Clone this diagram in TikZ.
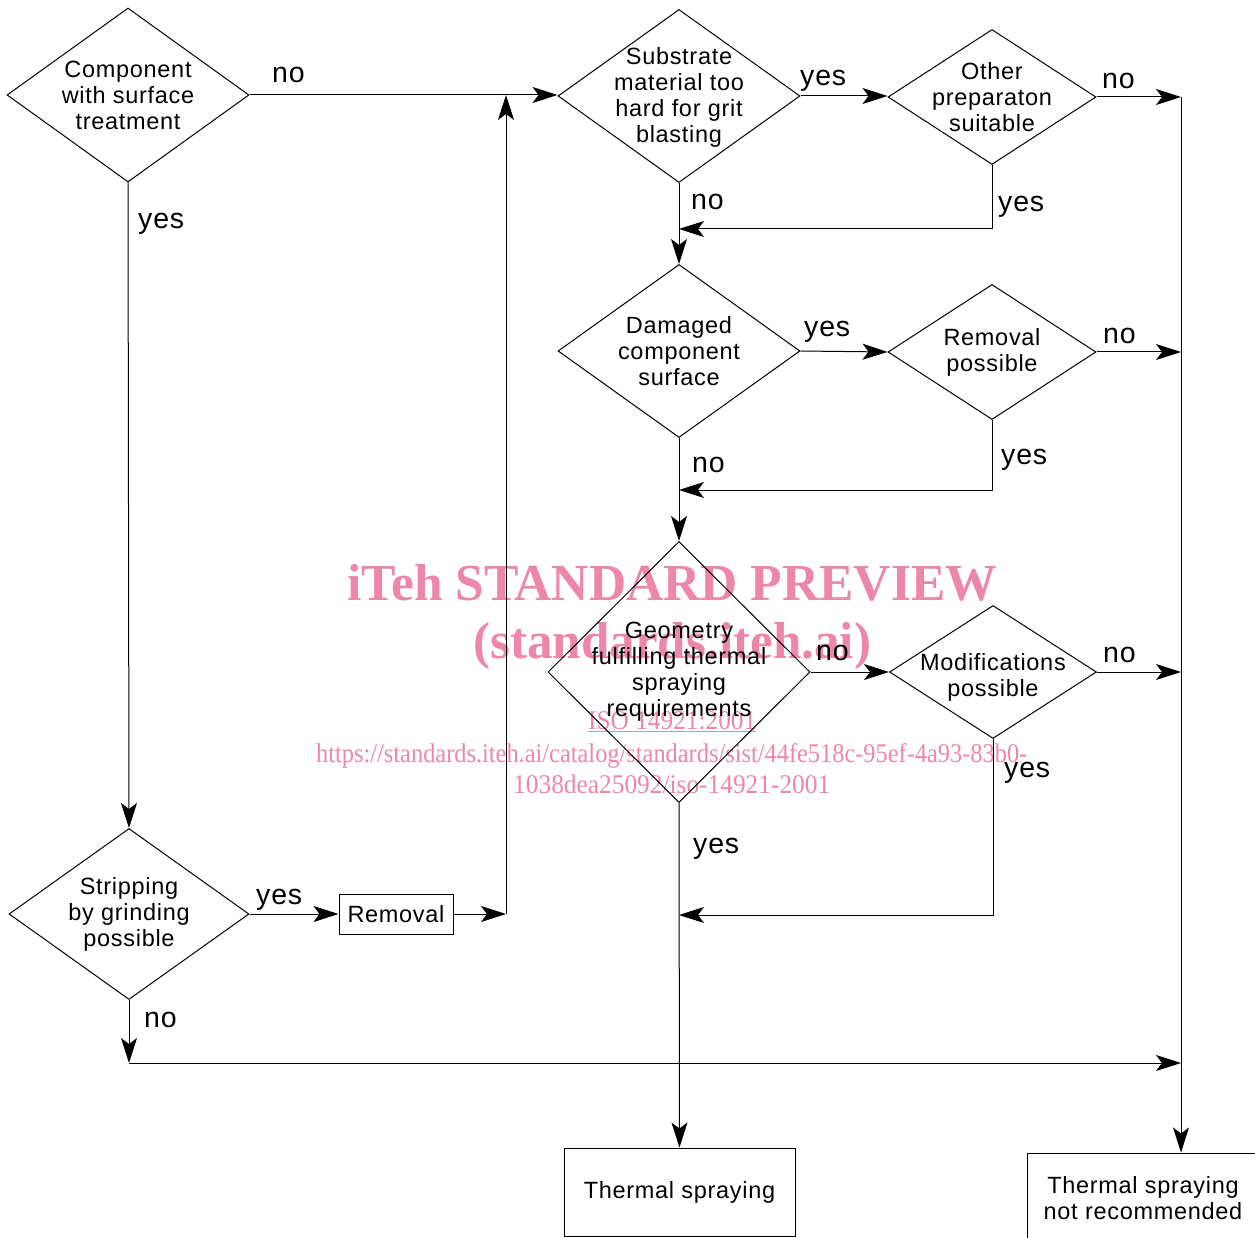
\documentclass[tikz,border=0pt]{standalone}
\usepackage{fontspec}
\usepackage{graphicx}
\setmainfont{Liberation Sans}[LetterSpace=3]
\newfontfamily\wmfont{Liberation Serif}
\usetikzlibrary{shapes.geometric,arrows.meta}
\definecolor{wmpink}{RGB}{236,135,168}
\begin{document}
\begin{tikzpicture}[x=1pt,y=-1pt,
  dia/.style={draw, shape=diamond, inner sep=0pt, line width=1pt},
  dtext/.style={align=center, font=\fontsize{23.5}{26}\selectfont, inner sep=0pt},
  boxn/.style={draw, rectangle, line width=1pt, inner sep=0pt, align=center, font=\fontsize{23.5}{26}\selectfont},
  lbl/.style={font=\fontsize{28.5}{30}\selectfont, anchor=base west, inner sep=0pt},
  arr/.style={-{Stealth[length=25pt,width=16pt,inset=6pt]}, line width=1pt},
  wmk/.style={text=wmpink, anchor=base west, inner sep=0pt}]
\useasboundingbox (0,0) rectangle (1255,1238);
\clip (0,0) rectangle (1255,1238);
% watermark
\node[wmk] (w1) at (347,600) {\resizebox{650pt}{\height}{\wmfont\fontsize{52}{60}\selectfont\bfseries iTeh STANDARD PREVIEW}};
\node[wmk] (w2) at (473,658) {\resizebox{398pt}{\height}{\wmfont\fontsize{52}{60}\selectfont\bfseries (standards.iteh.ai)}};
\node[wmk] (w3) at (588,729) {\resizebox{168pt}{\height}{\wmfont\fontsize{27}{30}\selectfont\underline{ISO 14921:2001}}};
\node[wmk] (w4) at (316,762) {\resizebox{711pt}{\height}{\wmfont\fontsize{27}{30}\selectfont https://standards.iteh.ai/catalog/standards/sist/44fe518c-95ef-4a93-83b0-}};
\node[wmk] (w5) at (513,793) {\resizebox{317pt}{\height}{\wmfont\fontsize{27}{30}\selectfont 1038dea25092/iso-14921-2001}};
% decision nodes
\node[dia, minimum width=242pt, minimum height=174pt] (d1) at (128,95) {};
\node[dtext] at (d1) {Component\\with surface\\treatment};
\node[dia, minimum width=242pt, minimum height=173pt] (d2) at (679,96) {};
\node[dtext] at (679,97) {Substrate\\material too\\hard for grit\\blasting};
\node[dia, minimum width=208pt, minimum height=135pt] (d3) at (992,97) {};
\node[dtext] at (d3) {Other\\preparaton\\suitable};
\node[dia, minimum width=242pt, minimum height=173pt] (d4) at (679,351) {};
\node[dtext] at (d4) {Damaged\\component\\surface};
\node[dia, minimum width=208pt, minimum height=135pt] (d5) at (992,352) {};
\node[dtext] at (d5) {Removal\\possible};
\node[dia, minimum width=262pt, minimum height=261pt] (d6) at (679,672) {};
\node[dtext] at (d6) {Geometry\\fulfilling thermal\\spraying\\requirements};
\node[dia, minimum width=207pt, minimum height=133pt] (d7) at (993,672) {};
\node[dtext] at (993,677) {Modifications\\possible};
\node[dia, minimum width=240pt, minimum height=171pt] (d8) at (129,914) {};
\node[dtext] at (d8) {Stripping\\by grinding\\possible};
% boxes
\node[boxn, minimum width=114pt, minimum height=40pt] (rem) at (396,914) {Removal};
\node[boxn, minimum width=231pt, minimum height=88pt] (ts) at (679.5,1192) {Thermal spraying};
\node[boxn, minimum width=232pt, minimum height=90pt] (nr) at (1143,1198) {Thermal spraying\\not recommended};
% junction coordinates
\coordinate (j1) at (506,914);
\coordinate (j2) at (506,95);
\coordinate (r1) at (1181,97);
\coordinate (r2) at (1181,352);
\coordinate (r3) at (1181,672);
\coordinate (c1) at (679,229);
\coordinate (c2) at (679,490);
\coordinate (c3) at (679,915);
\coordinate (c4) at (129,1063);
\coordinate (c5) at (1181,1063);
% connectors
\draw[arr] (d1.east) -- (d1.east -| d2.west);
\draw[arr] (d1.south) -- (d8.north);
\draw[arr] (d8.east) -- (rem.west);
\draw[arr] (rem.east) -- (j1);
\draw[arr] (j1) -- (j2);
\draw[arr] (d2.east) -- (d2.east -| d3.west);
\draw[arr] (d3.east) -- (r1);
\draw[arr] (r1) -- (r1 |- nr.north);
\draw[arr] (d3.south) |- (c1);
\draw[arr] (d2.south) -- (d4.north);
\draw[arr] (d4.east) -- (d5.west);
\draw[arr] (d5.east) -- (r2);
\draw[arr] (d5.south) |- (c2);
\draw[arr] (d4.south) -- (d6.north);
\draw[arr] (d6.east) -- (d7.west);
\draw[arr] (d7.east) -- (r3);
\draw[arr] (d7.south) |- (c3);
\draw[arr] (d6.south) -- (ts.north);
\draw[arr] (d8.south) -- (c4);
\draw[arr] (c4) -- (c5);
% labels
\node[lbl] (l1) at (272,83) {no};
\node[lbl] (l2) at (138,229) {yes};
\node[lbl] (l3) at (800,86) {yes};
\node[lbl] (l4) at (1102,89) {no};
\node[lbl] (l5) at (998,212) {yes};
\node[lbl] (l6) at (691,210) {no};
\node[lbl] (l7) at (804,337) {yes};
\node[lbl] (l8) at (1103,344) {no};
\node[lbl] (l9) at (1001,464) {yes};
\node[lbl] (l10) at (692,472) {no};
\node[lbl] (l11) at (816,660) {no};
\node[lbl] (l12) at (1103,662) {no};
\node[lbl] (l13) at (1004,777) {yes};
\node[lbl] (l14) at (693,853) {yes};
\node[lbl] (l15) at (256,904) {yes};
\node[lbl] (l16) at (144,1027) {no};
\end{tikzpicture}
\end{document}
